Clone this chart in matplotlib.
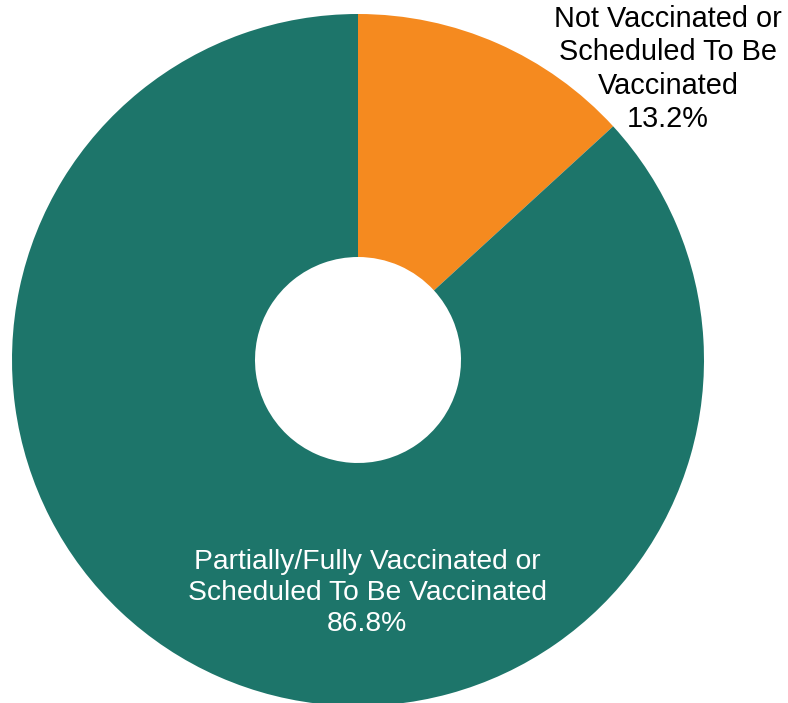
import matplotlib.pyplot as plt

plt.rcParams['font.family'] = ['Liberation Sans', 'DejaVu Sans']

labels = ['Not Vaccinated or\nScheduled To Be\nVaccinated',
          'Partially/Fully Vaccinated or\nScheduled To Be Vaccinated']
values = [13.2, 86.8]
colors = ['#F58A1F', '#1D756A']

fig = plt.figure(figsize=(7.88, 7.03), dpi=100)
# center at (358, 360) px from top-left, outer radius 346 px
cx, cy, r = 358, 360, 346
ax = fig.add_axes([(cx - r) / 788, (703 - cy - r) / 703, 2 * r / 788, 2 * r / 703])

wedges, _ = ax.pie(values, colors=colors, startangle=90, counterclock=False,
                   radius=1, wedgeprops=dict(width=1 - 103 / 346, linewidth=0),
                   frame=True)
ax.set_xlim(-1, 1)
ax.set_ylim(-1, 1)
ax.axis('off')


def px(x, y):
    return (x - cx) / r, (cy - y) / r


tx, ty = px(668, 69)
ax.text(tx, ty, f'{labels[0]}\n{values[0]:.1f}%', ha='center', va='center',
        fontsize=20.8, color='black', linespacing=1.23, clip_on=False)
tx, ty = px(367, 593)
ax.text(tx, ty, f'{labels[1]}\n{values[1]:.1f}%', ha='center', va='center',
        fontsize=20.3, color='white', linespacing=1.26)

plt.savefig('out.png', dpi=100)
